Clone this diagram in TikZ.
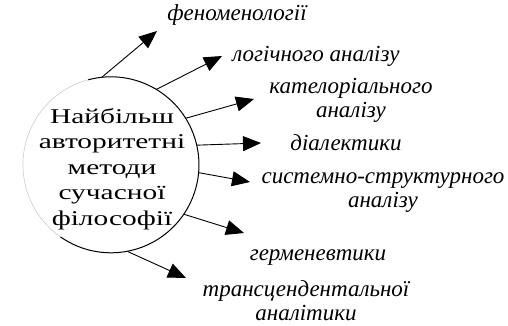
\documentclass[tikz,border=0pt]{standalone}
\usepackage{fontspec}
\setmainfont{Liberation Serif}
\newfontfamily\widefont[FakeStretch=1.4]{Liberation Serif}
\usetikzlibrary{arrows.meta}
\begin{document}
\begin{tikzpicture}[x=1pt,y=-1pt,
  lbl/.style={font=\fontsize{23}{24}\selectfont\itshape, align=center, inner sep=0pt},
  arr/.style={line width=0.9pt, -{Triangle[length=18pt,width=15pt]}}]
\useasboundingbox[fill=white] (0,0) rectangle (508,326);
\node[circle, minimum size=176pt, inner sep=0pt] (c) at (111,165) {};
\draw[line width=1pt] (c.105) arc[start angle=105, end angle=-125, radius=88pt];
\draw[gray!40, line width=0.6pt] (c.105) arc[start angle=105, end angle=235, radius=88pt];
\node[font=\widefont\fontsize{21}{25.5}\selectfont, align=center, inner sep=0pt] (t) at (112,169)
  {Найбільш\\авторитетні\\методи\\сучасної\\філософії};
\coordinate (e1) at (157,31);
\coordinate (e2) at (222,56);
\coordinate (e3) at (254,99);
\coordinate (e4) at (261,143);
\coordinate (e5) at (250,182);
\coordinate (e6) at (244,233);
\coordinate (e7) at (186,278);
\draw[arr] (c.96.7) -- (e1);
\draw[arr] (c.59.6) -- (e2);
\draw[arr] (c.32.3) -- (e3);
\draw[arr] (c.13.3) -- (e4);
\draw[arr] (c.-5.6) -- (e5);
\draw[arr] (c.-34.2) -- (e6);
\draw[arr] (c.-79) -- (e7);
\node[lbl] (l1) at (237,15) {феноменології};
\node[lbl] (l2) at (316,56) {логічного аналізу};
\node[lbl] (l3) at (351,100) {кателоріального\\аналізу};
\node[lbl] (l4) at (346,143) {діалектики};
\node[lbl] (l5) at (383,193) {системно-структурного\\аналізу};
\node[lbl] (l6) at (318,258) {герменевтики};
\node[lbl] (l7) at (306,301) {трансцендентальної\\аналітики};
\end{tikzpicture}
\end{document}
